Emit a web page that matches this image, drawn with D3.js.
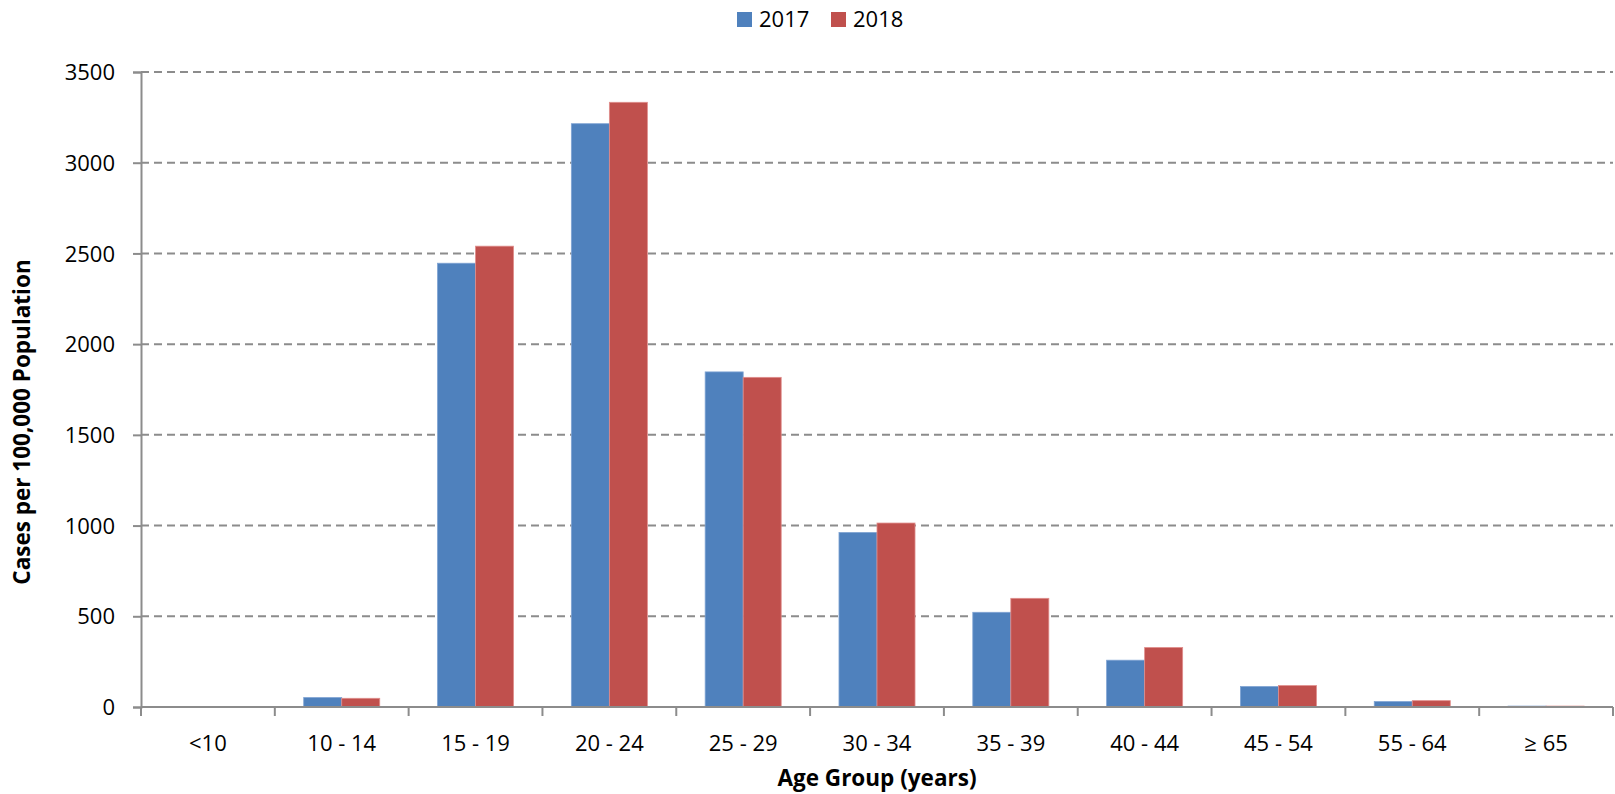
<!DOCTYPE html>
<html>
<head>
<meta charset="utf-8">
<script src="https://cdn.jsdelivr.net/npm/d3@7"></script>
<style>
  html, body { margin: 0; padding: 0; background: #fff; }
  svg { display: block; }
  text { font-family: "Open Sans", "DejaVu Sans", sans-serif; fill: #000; }
</style>
</head>
<body>
<svg id="chart" width="1615" height="794"></svg>
<script>
// Rates by age group
const categories = ["<10", "10 - 14", "15 - 19", "20 - 24", "25 - 29", "30 - 34", "35 - 39", "40 - 44", "45 - 54", "55 - 64", "\u2265 65"];
const years = ["2017", "2018"];
const values2017 = [1, 52, 2446, 3215, 1847, 962, 522, 258, 113, 30, 5];
const values2018 = [1, 48, 2540, 3333, 1817, 1014, 599, 328, 118, 35, 5];
const yTicks = [0, 500, 1000, 1500, 2000, 2500, 3000, 3500];
const colors = ["#4f81bd", "#c0504d"];
const strokes = ["#7fa3d3", "#e08e8c"];

const svg = d3.select("#chart");
const plotLeft = 141, plotRight = 1613, plotTop = 72, plotBottom = 707;

const x0 = d3.scaleBand().domain(categories).range([plotLeft, plotRight]).padding(0);
const x1 = d3.scaleBand().domain(years).range([0, x0.bandwidth()]).paddingInner(0).paddingOuter(0.76);
const y = d3.scaleLinear().domain([0, 3500]).range([plotBottom, plotTop]);

// horizontal dashed gridlines
svg.append("g").selectAll("line").data(yTicks.filter(d => d > 0)).join("line")
  .attr("x1", plotLeft).attr("x2", plotRight)
  .attr("y1", d => y(d)).attr("y2", d => y(d))
  .attr("stroke", "#8c8c8c").attr("stroke-width", 2)
  .attr("stroke-dasharray", "8,5");

// bars
const rows = categories.map((c, i) => ({ cat: c, vals: [values2017[i], values2018[i]] }));
const groups = svg.append("g").selectAll("g").data(rows).join("g")
  .attr("transform", d => `translate(${x0(d.cat)},0)`);
groups.selectAll("rect").data(d => d.vals.map((v, j) => ({ v, j }))).join("rect")
  .attr("x", d => x1(years[d.j]))
  .attr("width", x1.bandwidth())
  .attr("y", d => y(d.v))
  .attr("height", d => plotBottom - y(d.v))
  .attr("fill", d => colors[d.j])
  .attr("stroke", d => strokes[d.j])
  .attr("stroke-width", 0.8);

// y axis
const yAxis = d3.axisLeft(y).tickValues(yTicks).tickSize(8).tickPadding(18).tickFormat(d3.format("d"));
const gy = svg.append("g").attr("transform", `translate(${plotLeft},0)`).call(yAxis);
gy.select(".domain").attr("stroke", "#8c8c8c").attr("stroke-width", 2);
gy.selectAll(".tick line").attr("stroke", "#8c8c8c").attr("stroke-width", 2);
gy.selectAll(".tick text").attr("font-size", 22).attr("font-family", "Open Sans").attr("dy", "0.35em").attr("fill", "#000");

// x axis with ticks at category boundaries
const gx = svg.append("g").attr("transform", `translate(0,${plotBottom})`);
gx.append("line").attr("x1", plotLeft).attr("x2", plotRight).attr("stroke", "#8c8c8c").attr("stroke-width", 2);
const boundaries = categories.map(c => x0(c)).concat([plotRight]);
gx.selectAll("line.tk").data(boundaries).join("line").attr("class", "tk")
  .attr("x1", d => d).attr("x2", d => d).attr("y1", 0).attr("y2", 9)
  .attr("stroke", "#8c8c8c").attr("stroke-width", 2);
gx.selectAll("text").data(categories).join("text")
  .attr("x", d => x0(d) + x0.bandwidth() / 2).attr("y", 44)
  .attr("text-anchor", "middle").attr("font-size", 22).text(d => d);

// axis titles
svg.append("text").attr("x", (plotLeft + plotRight) / 2).attr("y", 786)
  .attr("text-anchor", "middle").attr("font-size", 22.5).attr("font-weight", "bold")
  .text("Age Group (years)");
svg.append("text").attr("transform", "translate(30,422) rotate(-90)")
  .attr("text-anchor", "middle").attr("font-size", 22.5).attr("font-weight", "bold")
  .text("Cases per 100,000 Population");

// legend
const legend = svg.append("g");
const legendX = [737, 831];
years.forEach((yr, i) => {
  legend.append("rect").attr("x", legendX[i]).attr("y", 12).attr("width", 15).attr("height", 15).attr("fill", colors[i]);
  legend.append("text").attr("x", legendX[i] + 22).attr("y", 27).attr("font-size", 22).text(yr);
});
</script>
</body>
</html>
